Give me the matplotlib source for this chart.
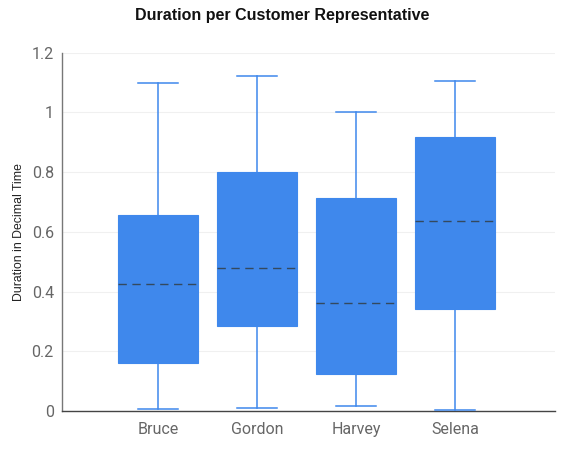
import matplotlib
matplotlib.use("Agg")
import matplotlib.pyplot as plt

# values
reps = ["Bruce", "Gordon", "Harvey", "Selena"]
whisker_low = [0.006, 0.009, 0.017, 0.003]
box_low = [0.160, 0.285, 0.124, 0.342]
medians = [0.426, 0.478, 0.361, 0.637]
box_high = [0.655, 0.800, 0.713, 0.918]
whisker_high = [1.098, 1.123, 1.001, 1.105]
yticks = [0, 0.2, 0.4, 0.6, 0.8, 1.0, 1.2]
ytick_labels = ["0", "0.2", "0.4", "0.6", "0.8", "1", "1.2"]

plt.rcParams['font.family'] = ['Roboto', 'DejaVu Sans']
blue = "#3F88EC"

stats = []
for i, name in enumerate(reps):
    stats.append({
        "label": name,
        "whislo": whisker_low[i],
        "q1": box_low[i],
        "med": medians[i],
        "q3": box_high[i],
        "whishi": whisker_high[i],
        "fliers": [],
    })

fig = plt.figure(figsize=(5.65, 4.55), dpi=100)
ax = fig.add_axes([0.110, 0.097, 0.872, 0.787])

ax.bxp(stats, positions=range(len(reps)), widths=0.81, capwidths=0.41,
       patch_artist=True, showfliers=False,
       boxprops=dict(facecolor=blue, edgecolor=blue, linewidth=0.8),
       whiskerprops=dict(color=blue, linewidth=1.1),
       capprops=dict(color=blue, linewidth=1.1),
       medianprops=dict(color="#34495e", linewidth=1.0, linestyle=(0, (6, 4))),
       zorder=3)

ax.set_xlim(-0.97, 4.01)
ax.set_ylim(0, 1.2)
ax.set_yticks(yticks)
ax.set_yticklabels(ytick_labels)
ax.set_xticks(range(len(reps)))
ax.set_xticklabels(reps)
ax.grid(axis="y", color="#f0f0f0", linewidth=0.8, zorder=0)
ax.set_axisbelow(True)

for s in ["top", "right"]:
    ax.spines[s].set_visible(False)
ax.spines["left"].set_color("#777777")
ax.spines["bottom"].set_color("#444444")
ax.spines["left"].set_linewidth(1.0)
ax.spines["bottom"].set_linewidth(1.0)
ax.tick_params(axis="both", length=0, labelsize=11.5, colors="#666666", pad=6)
ax.tick_params(axis="x", pad=8)

ax.set_ylabel("Duration in Decimal Time", fontsize=8.8, color="#222222", labelpad=5,
              family="Liberation Sans")
fig.text(0.5, 0.967, "Duration per Customer Representative", ha="center", va="center",
         fontsize=11.5, fontweight="bold", color="#111111", family="Liberation Sans")

fig.savefig("out.png", dpi=100)
